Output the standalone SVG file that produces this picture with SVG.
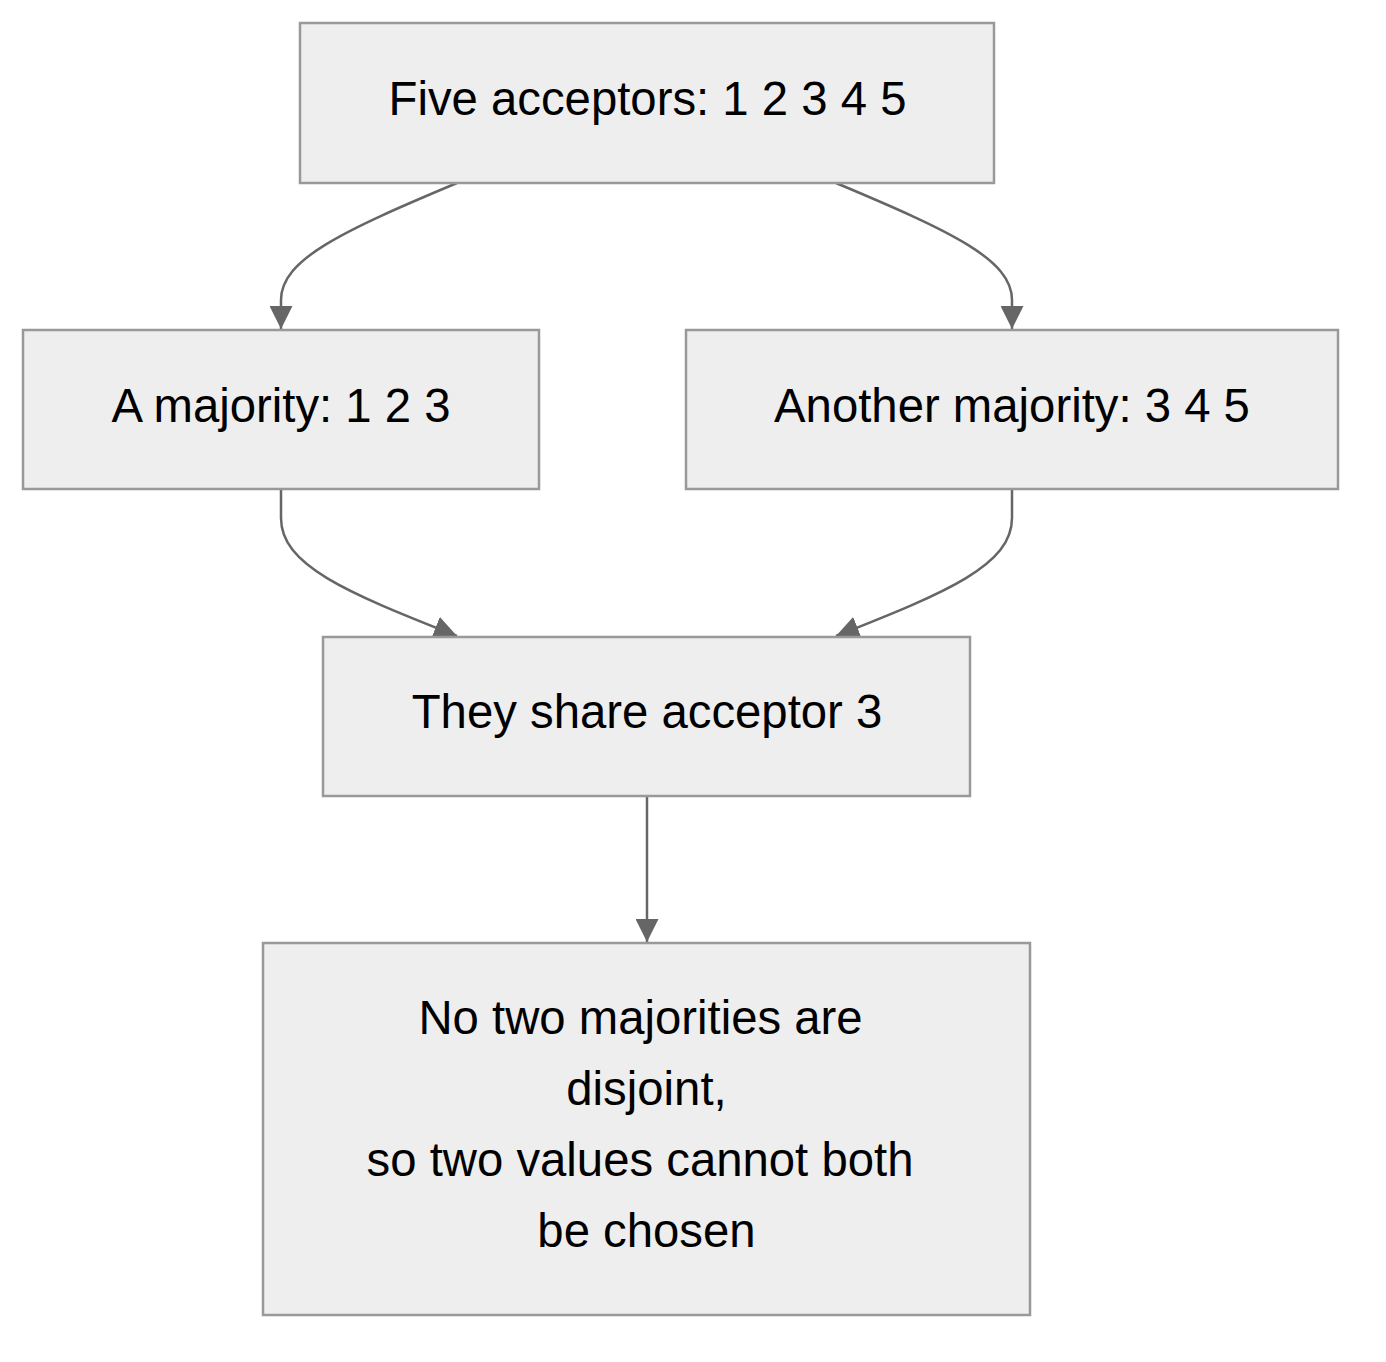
<svg xmlns="http://www.w3.org/2000/svg" width="1386" height="1362" viewBox="0 0 1386 1362">
<style>
.box{fill:#eeeeee;stroke:#999999;stroke-width:2.5}
.lbl{font-family:"Liberation Sans",Arial,sans-serif;font-size:47.3px;fill:#000;text-anchor:middle}
.edge{fill:none;stroke:#666666;stroke-width:2.5}
</style>
<defs>
<marker id="arr" viewBox="0 0 10 10" refX="10" refY="5" markerUnits="userSpaceOnUse" markerWidth="23" markerHeight="23" orient="auto">
<path d="M0,0 L10,5 L0,10 z" fill="#666666"/>
</marker>
</defs>
<rect width="1386" height="1362" fill="#ffffff"/>
<g id="connectors">
<path class="edge" marker-end="url(#arr)" d="M457,183 C340,232 281,260 281,300 L281,329"/>
<path class="edge" marker-end="url(#arr)" d="M836,183 C953,232 1012,260 1012,300 L1012,329"/>
<path class="edge" marker-end="url(#arr)" d="M281,489 L281,518 C281,565 345,592 457,636"/>
<path class="edge" marker-end="url(#arr)" d="M1012,489 L1012,518 C1012,565 948,592 836,636"/>
<path class="edge" marker-end="url(#arr)" d="M647,796 L647,942"/>
</g>
<g id="n1">
<rect class="box" x="300" y="23" width="694" height="160"/>
<text class="lbl" x="647.5" y="115">Five acceptors: 1 2 3 4 5</text>
</g>
<g id="n2">
<rect class="box" x="23" y="330" width="516" height="159"/>
<text class="lbl" x="281" y="422">A majority: 1 2 3</text>
</g>
<g id="n3">
<rect class="box" x="686" y="330" width="652" height="159"/>
<text class="lbl" x="1012" y="422">Another majority: 3 4 5</text>
</g>
<g id="n4">
<rect class="box" x="323" y="637" width="647" height="159"/>
<text class="lbl" x="647" y="728">They share acceptor 3</text>
</g>
<g id="n5">
<rect class="box" x="263" y="943" width="767" height="372"/>
<text class="lbl" x="640.5" y="1034">No two majorities are</text>
<text class="lbl" x="646.5" y="1105">disjoint,</text>
<text class="lbl" x="640" y="1176">so two values cannot both</text>
<text class="lbl" x="646.5" y="1247">be chosen</text>
</g>
</svg>
